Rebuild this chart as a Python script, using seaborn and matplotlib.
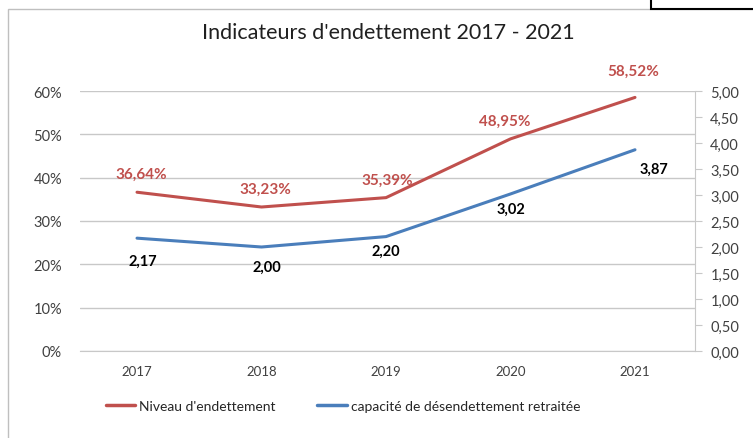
import pandas as pd
import matplotlib.pyplot as plt
import matplotlib.patches as patches
from matplotlib.lines import Line2D
import seaborn as sns

years = ['2017', '2018', '2019', '2020', '2021']
niveau = [36.64, 33.23, 35.39, 48.95, 58.52]
capacite = [2.17, 2.00, 2.20, 3.02, 3.87]
pct_ticks = [0, 10, 20, 30, 40, 50, 60]
cap_ticks = [0, 0.5, 1, 1.5, 2, 2.5, 3, 3.5, 4, 4.5, 5]

RED = '#c0504d'
BLUE = '#4a7ebb'
GRID = '#c8c8c8'
TXT = '#404040'


def fr(v, d=2):
	return f"{v:.{d}f}".replace('.', ',')


def main():
	sns.set_style('white')
	plt.rcParams['font.family'] = ['Lato', 'DejaVu Sans']

	df = pd.DataFrame({'annee': years, 'niveau': niveau, 'capacite': capacite})
	df['x'] = range(len(df))

	fig = plt.figure(figsize=(7.53, 4.39), dpi=100)
	ax = fig.add_axes([80 / 753, 1 - 352 / 439, 615 / 753, 260 / 439])
	ax2 = ax.twinx()

	sns.lineplot(data=df, x='x', y='niveau', ax=ax, color=RED, linewidth=2.2)
	sns.lineplot(data=df, x='x', y='capacite', ax=ax2, color=BLUE, linewidth=2.2)

	ax.set_xlim(-0.458, 4.482)
	ax.set_ylim(0, 60)
	ax2.set_ylim(0, 5)
	ax.set_yticks(pct_ticks)
	ax.set_yticklabels([f"{t}%" for t in pct_ticks], color=TXT, fontsize=10.5)
	ax2.set_yticks(cap_ticks)
	ax2.set_yticklabels([fr(t) for t in cap_ticks], color=TXT, fontsize=10.5)
	ax.set_xticks(df['x'])
	ax.set_xticklabels(years, color=TXT, fontsize=9.5)
	ax.set_xlabel('')
	ax.set_ylabel('')
	ax2.set_ylabel('')

	ax.grid(axis='y', color=GRID, linewidth=1)
	ax.set_axisbelow(True)
	for a in (ax, ax2):
		for s in ['top', 'left']:
			a.spines[s].set_visible(False)
		a.spines['bottom'].set_color(GRID)
		a.spines['right'].set_color(GRID)
	ax.spines['right'].set_visible(False)
	ax2.spines['bottom'].set_visible(False)
	ax.tick_params(axis='y', length=0, pad=13)
	ax.tick_params(axis='x', length=0, pad=10)
	ax2.tick_params(axis='y', length=5, color=GRID, pad=6)

	# data labels
	off_n = [(3, 13), (3, 13), (1, 13), (-4, 13), (-1, 19)]
	for i, v in enumerate(niveau):
		ax.annotate(fr(v) + '%', (i, v), xytext=off_n[i], textcoords='offset points',
			ha='center', va='center', color=RED, fontsize=11, fontweight='bold')
	off_c = [(4, -16.5), (4, -14.5), (0, -10.5), (0, -11), (14, -14)]
	for i, v in enumerate(capacite):
		ax2.annotate(fr(v), (i, v), xytext=off_c[i], textcoords='offset points',
			ha='center', va='center', color='black', fontsize=10.5, fontweight='bold')

	fig.text(388 / 753, 1 - 33 / 439, "Indicateurs d'endettement 2017 - 2021",
		ha='center', va='center', fontsize=15.5, color='#202020')

	handles = [Line2D([], [], color=RED, lw=2.5), Line2D([], [], color=BLUE, lw=2.5)]
	fig.legend(handles, ["Niveau d'endettement", "capacité de désendettement retraitée"],
		loc='center', bbox_to_anchor=(343 / 753, 1 - 407 / 439), ncol=2, frameon=False,
		fontsize=10, handlelength=2.1, handletextpad=0.3, columnspacing=3)

	# chart frame and the box at the top right
	fig.add_artist(patches.Rectangle((8 / 753, -0.05), 1, 1 - 10 / 439 + 0.05,
		transform=fig.transFigure, fill=False, edgecolor='#bfbfbf', lw=1))
	fig.add_artist(patches.Rectangle((651 / 753, 1 - 10 / 439), 0.2, 0.1,
		transform=fig.transFigure, facecolor='white', edgecolor='black', lw=1.5))

	plt.savefig('out.png', dpi=100)


if __name__ == '__main__':
	main()
